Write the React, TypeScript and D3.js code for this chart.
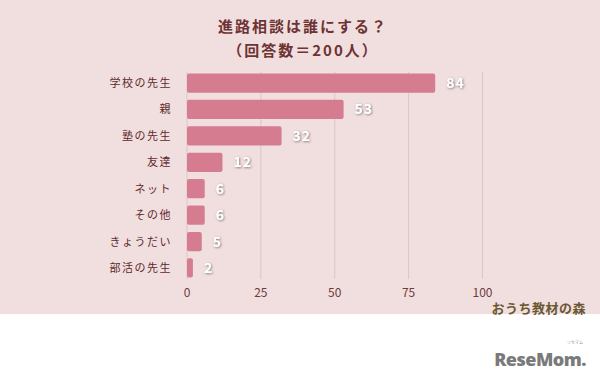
import React from "react";
import * as d3 from "d3";

const categories = ["学校の先生", "親", "塾の先生", "友達", "ネット", "その他", "きょうだい", "部活の先生"];
const values = [84, 53, 32, 12, 6, 6, 5, 2];
const xTicks = [0, 25, 50, 75, 100];
const titleLines = ["進路相談は誰にする？", "（回答数＝200人）"];

const W = 600;
const H = 381;
const JP = "'Noto Sans CJK JP', 'Noto Sans', sans-serif";

export default function App() {
  const x = d3.scaleLinear().domain([0, 100]).range([187, 482.5]);
  const y = d3.scaleBand<string>().domain(categories).range([70, 281]).paddingInner(0.27).paddingOuter(0.13);
  const bw = y.bandwidth();
  return (
    <svg width={W} height={H} style={{ position: "absolute", left: 0, top: 0 }} xmlns="http://www.w3.org/2000/svg">
      <defs>
        <filter id="sh" x="-30%" y="-30%" width="160%" height="160%">
          <feDropShadow dx="0.8" dy="0.8" stdDeviation="0.8" floodColor="#7a6a6a" floodOpacity="0.9" />
        </filter>
      </defs>
      <rect x={0} y={0} width={W} height={H} fill="#ffffff" />
      <rect x={0} y={0} width={W} height={314} fill="#f1dfe0" />
      {titleLines.map((t, i) => (
        <text key={i} x={303} y={32 + i * 24} textAnchor="middle" fontFamily={JP} fontSize={15} fontWeight={700}
          fill="#6e3333" letterSpacing={2}>{t}</text>
      ))}
      {xTicks.map((t) => (
        <g key={t}>
          <line x1={x(t)} x2={x(t)} y1={72} y2={279} stroke="#dcc3c5" strokeWidth={1} />
          <text x={x(t)} y={297} textAnchor="middle" fontFamily={JP} fontSize={12} fill="#6e3a3a">{t}</text>
        </g>
      ))}
      {categories.map((c, i) => {
        const yy = y(c)!;
        return (
          <g key={c}>
            <rect x={x(0)} y={yy} width={x(values[i]) - x(0)} height={bw} rx={2} fill="#d57c91" />
            <text x={172} y={yy + bw / 2 + 4} textAnchor="end" fontFamily={JP} fontSize={11} fill="#5e2a2a" letterSpacing={1.5}>{c}</text>
            <text x={x(values[i]) + 11} y={yy + bw / 2 + 5} fontFamily={JP} fontSize={14} fontWeight={700}
              fill="#ffffff" letterSpacing={1} filter="url(#sh)">{values[i]}</text>
          </g>
        );
      })}
      <text x={586} y={313} textAnchor="end" fontFamily={JP} fontSize={13} fontWeight={700} fill="#6b5833" letterSpacing={0.5}>おうち教材の森</text>
      <text x={586} y={366} textAnchor="end" fontFamily="'Open Sans', 'DejaVu Sans', sans-serif" fontSize={18} fontWeight={800} fill="#7a7a7a" letterSpacing={-0.5}>ReseMom.</text>
      <text x={575} y={344} textAnchor="middle" fontFamily={JP} fontSize={4} fill="#999">リセマム</text>
    </svg>
  );
}
